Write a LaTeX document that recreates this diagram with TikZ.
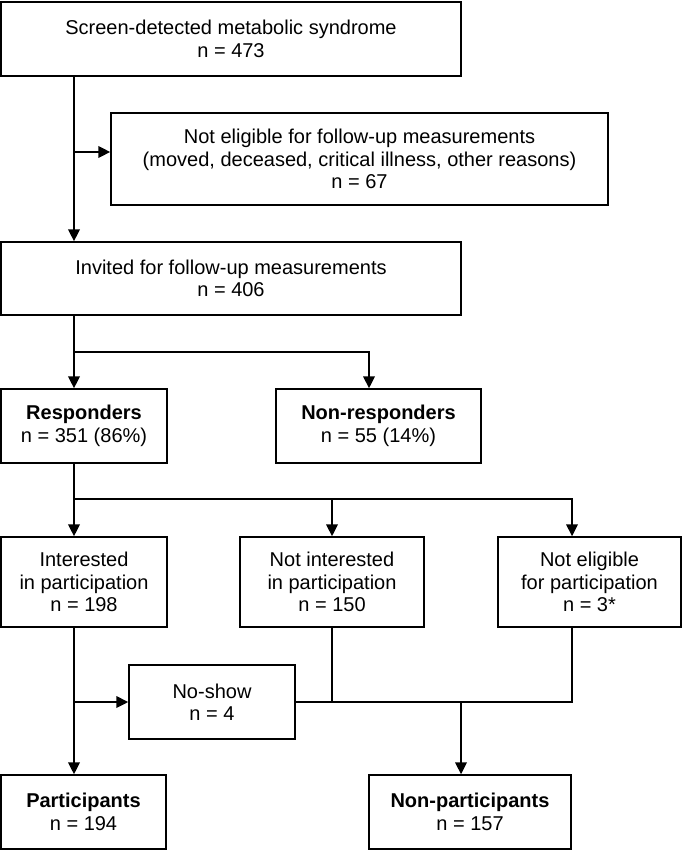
\documentclass[tikz,border=0pt]{standalone}
\usepackage{fontspec}
\setmainfont{Liberation Sans}
\usetikzlibrary{arrows.meta,positioning,calc}

\begin{document}
\begin{tikzpicture}[
    x=1pt, y=-1pt,
    box/.style={rectangle, draw, line width=1.4pt, align=center, inner sep=0pt, minimum height=74pt, font=\fontsize{20}{22.5}\selectfont},
    tallbox/.style={box, minimum height=90pt},
    arrow/.style={-{Triangle[length=12pt,width=11.5pt]}, line width=1.8pt},
    line/.style={line width=1.8pt}
]
    \useasboundingbox (0,0) rectangle (685,850);

    % Screening and eligibility
    \node[box, minimum width=460pt] (screen) at (231,39) {Screen-detected metabolic syndrome\\n = 473};
    \node[box, minimum width=497pt, minimum height=92pt] (notelig) at (359.5,159) {Not eligible for follow-up measurements\\(moved, deceased, critical illness, other reasons)\\n = 67};
    \node[box, minimum width=460pt, minimum height=73pt] (invited) at (231,278.5) {Invited for follow-up measurements\\n = 406};

    % Response
    \node[box, minimum width=166pt] (resp) at (84,426) {\textbf{Responders}\\n = 351 (86\%)};
    \node[box, minimum width=205pt] (nonresp) at (378.5,426) {\textbf{Non-responders}\\n = 55 (14\%)};

    % Interest
    \node[tallbox, minimum width=166pt] (interested) at (84,582) {Interested\\in participation\\n = 198};
    \node[tallbox, minimum width=184pt] (notint) at (332,582) {Not interested\\in participation\\n = 150};
    \node[tallbox, minimum width=183pt] (noteligpart) at (589.5,582) {Not eligible\\for participation\\n = 3*};

    % No-show and outcome
    \node[box, minimum width=166pt] (noshow) at (212,702) {No-show\\n = 4};
    \node[box, minimum width=165pt] (part) at (83.5,812) {\textbf{Participants}\\n = 194};
    \node[box, minimum width=202pt] (nonpart) at (470,812) {\textbf{Non-participants}\\n = 157};

    % Junction points
    \coordinate (j1) at (74,152);
    \coordinate (j2) at (74,352);
    \coordinate (j3) at (74,499);
    \coordinate (j4) at (74,702);
    \coordinate (j5) at (461,702);

    % Connections
    \draw[arrow] (screen.south -| j1) -- (invited.north -| j1);
    \draw[arrow] (j1) -- (notelig.west |- j1);
    \draw[arrow] (invited.south -| j2) -- (resp.north -| j2);
    \draw[arrow] (j2) -| ($(nonresp.north)+(-9.5,0)$);
    \draw[arrow] (resp.south -| j3) -- (interested.north -| j3);
    \draw[arrow] (j3) -| ([xshift=-17.5pt]noteligpart.north);
    \draw[arrow] (notint.north |- j3) -- (notint.north);
    \draw[arrow] (interested.south -| j4) -- (part.north -| j4);
    \draw[arrow] (j4) -- (noshow.west);
    \draw[line] (noshow.east) -| ([xshift=-17.5pt]noteligpart.south);
    \draw[line] (notint.south) -- (notint.south |- j4);
    \draw[arrow] (j5) -- (nonpart.north -| j5);
\end{tikzpicture}
\end{document}
